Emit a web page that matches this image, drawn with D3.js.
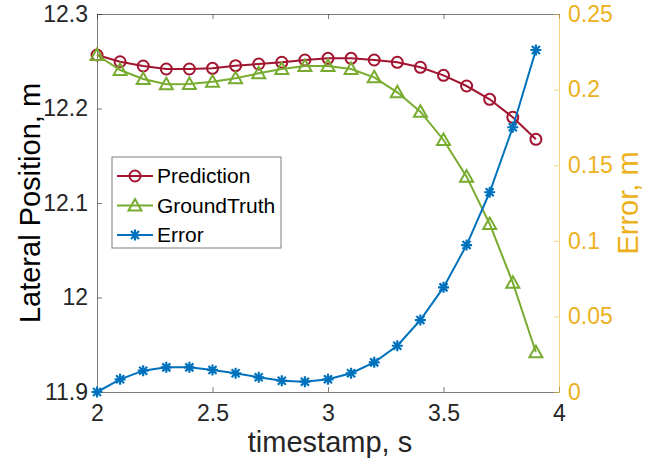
<!DOCTYPE html>
<html>
<head>
<meta charset="utf-8">
<script src="https://cdn.jsdelivr.net/npm/d3@7"></script>
<style>
  body { margin: 0; background: #fff; }
  svg { display: block; font-family: "Liberation Sans", Arial, sans-serif; }
</style>
</head>
<body>
<div id="chart"></div>
<script>
// timestamps (s)
const timestamps = [2.0, 2.1, 2.2, 2.3, 2.4, 2.5, 2.6, 2.7, 2.8, 2.9, 3.0, 3.1, 3.2, 3.3, 3.4, 3.5, 3.6, 3.7, 3.8, 3.9]
// lateral position (m), left axis
const prediction = [12.2566, 12.2495, 12.2450, 12.2418, 12.2418, 12.2425, 12.2453, 12.2471, 12.2489, 12.2513,
  12.2531, 12.2531, 12.2513, 12.2489, 12.2436, 12.2351, 12.2238, 12.2097, 12.1907, 12.1674]
const groundTruth = [12.2566, 12.2407, 12.2312, 12.2256, 12.2259, 12.2284, 12.2320, 12.2372, 12.2418, 12.2450,
  12.2450, 12.2418, 12.2330, 12.2171, 12.1966, 12.1667, 12.1279, 12.0778, 12.0157, 11.9420]
// error (m), right axis
const errorVals = [0.0000, 0.0084, 0.0141, 0.0163, 0.0163, 0.0146, 0.0124, 0.0097, 0.0075, 0.0068,
  0.0084, 0.0124, 0.0196, 0.0306, 0.0476, 0.0692, 0.0972, 0.1321, 0.1751, 0.2262]

const xTicks = [2, 2.5, 3, 3.5, 4]
const xTickLabels = ["2", "2.5", "3", "3.5", "4"]
const yLeftTicks = [11.9, 12.0, 12.1, 12.2, 12.3]
const yLeftTickLabels = ["11.9", "12", "12.1", "12.2", "12.3"]
const yRightTicks = [0, 0.05, 0.1, 0.15, 0.2, 0.25]
const yRightTickLabels = ["0", "0.05", "0.1", "0.15", "0.2", "0.25"]

const colors = { pred: "#A2142F", truth: "#77AC30", error: "#0072BD", right: "#EDB120", axis: "#262626" }

const width = 652, height = 468
const margin = { top: 14, right: 93, bottom: 76, left: 97 }
const plotW = width - margin.left - margin.right
const plotH = height - margin.top - margin.bottom

const svg = d3.select("#chart").append("svg")
  .attr("width", width)
  .attr("height", height)

const g = svg.append("g")
  .attr("transform", "translate(" + margin.left + "," + margin.top + ")")

const x = d3.scaleLinear().domain([2, 4]).range([0, plotW])
const yL = d3.scaleLinear().domain([11.9, 12.3]).range([plotH, 0])
const yR = d3.scaleLinear().domain([0, 0.25]).range([plotH, 0])

// axes
function styleAxis(sel, color, opacity) {
  sel.select(".domain").attr("stroke", color).attr("stroke-opacity", opacity)
  sel.selectAll(".tick line").attr("stroke", color).attr("stroke-opacity", opacity)
  sel.selectAll(".tick text").attr("fill", color).attr("font-size", 23)
}

const xAxis = g.append("g").attr("transform", "translate(0," + plotH + ")")
  .call(d3.axisBottom(x).tickValues(xTicks).tickFormat((d, i) => xTickLabels[i]).tickSizeInner(-5).tickSizeOuter(0).tickPadding(13))
styleAxis(xAxis, colors.axis, 0.6)
xAxis.selectAll(".tick text").attr("fill", "#262626")

const xTop = g.append("g")
  .call(d3.axisTop(x).tickValues(xTicks).tickFormat("").tickSizeInner(-5).tickSizeOuter(0))
styleAxis(xTop, colors.axis, 0.6)

const yLeft = g.append("g")
  .call(d3.axisLeft(yL).tickValues(yLeftTicks).tickFormat((d, i) => yLeftTickLabels[i]).tickSizeInner(-5).tickSizeOuter(0).tickPadding(9))
styleAxis(yLeft, colors.axis, 0.6)

const yRight = g.append("g").attr("transform", "translate(" + plotW + ",0)")
  .call(d3.axisRight(yR).tickValues(yRightTicks).tickFormat((d, i) => yRightTickLabels[i]).tickSizeInner(-5).tickSizeOuter(0).tickPadding(9))
styleAxis(yRight, colors.right, 0.55)
yRight.selectAll(".tick text").attr("fill-opacity", 1)

// axis labels
svg.append("text")
  .attr("x", margin.left + plotW / 2 + 2)
  .attr("y", 452)
  .attr("text-anchor", "middle")
  .attr("font-size", 29)
  .attr("fill", "#262626")
  .text("timestamp, s")

svg.append("text")
  .attr("transform", "translate(40," + (margin.top + plotH / 2) + ") rotate(-90)")
  .attr("text-anchor", "middle")
  .attr("font-size", 29)
  .attr("fill", "#000")
  .text("Lateral Position, m")

svg.append("text")
  .attr("transform", "translate(638," + (margin.top + plotH / 2) + ") rotate(-90)")
  .attr("text-anchor", "middle")
  .attr("font-size", 29)
  .attr("fill", colors.right)
  .text("Error, m")

// series
const series = [
  { name: "Prediction", values: prediction, scale: yL, color: colors.pred, marker: "circle" },
  { name: "GroundTruth", values: groundTruth, scale: yL, color: colors.truth, marker: "triangle" },
  { name: "Error", values: errorVals, scale: yR, color: colors.error, marker: "asterisk" }
]

function drawMarker(sel, type, color) {
  if (type === "circle") {
    sel.append("circle").attr("r", 5.5).attr("fill", "none").attr("stroke", color).attr("stroke-width", 2)
  } else if (type === "triangle") {
    sel.append("path").attr("d", "M0,-6.5L6.5,5L-6.5,5Z").attr("fill", "none").attr("stroke", color).attr("stroke-width", 2)
  } else {
    sel.append("path")
      .attr("d", "M0,-5.5V5.5M-5.5,0H5.5M-4,-4L4,4M-4,4L4,-4")
      .attr("fill", "none").attr("stroke", color).attr("stroke-width", 2.2)
  }
}

series.forEach(s => {
  const line = d3.line()
    .x((d, i) => x(timestamps[i]))
    .y(d => s.scale(d))
  g.append("path")
    .datum(s.values)
    .attr("fill", "none")
    .attr("stroke", s.color)
    .attr("stroke-width", 2)
    .attr("d", line)

  g.selectAll(null)
    .data(s.values)
    .join("g")
    .attr("transform", (d, i) => "translate(" + x(timestamps[i]) + "," + s.scale(d) + ")")
    .each(function () { drawMarker(d3.select(this), s.marker, s.color) })
})

// legend
const legend = svg.append("g").attr("transform", "translate(112,157)")
legend.append("rect")
  .attr("width", 169).attr("height", 91)
  .attr("fill", "#fff").attr("stroke", "#262626").attr("stroke-opacity", 0.6)

series.forEach((s, i) => {
  const row = legend.append("g").attr("transform", "translate(0," + (19 + i * 29.5) + ")")
  row.append("line").attr("x1", 5).attr("x2", 41).attr("stroke", s.color).attr("stroke-width", 2)
  drawMarker(row.append("g").attr("transform", "translate(23,0)"), s.marker, s.color)
  row.append("text")
    .attr("x", 45).attr("y", 0).attr("dy", "0.35em")
    .attr("font-size", 21).attr("fill", "#000")
    .text(s.name)
})
</script>
</body>
</html>
